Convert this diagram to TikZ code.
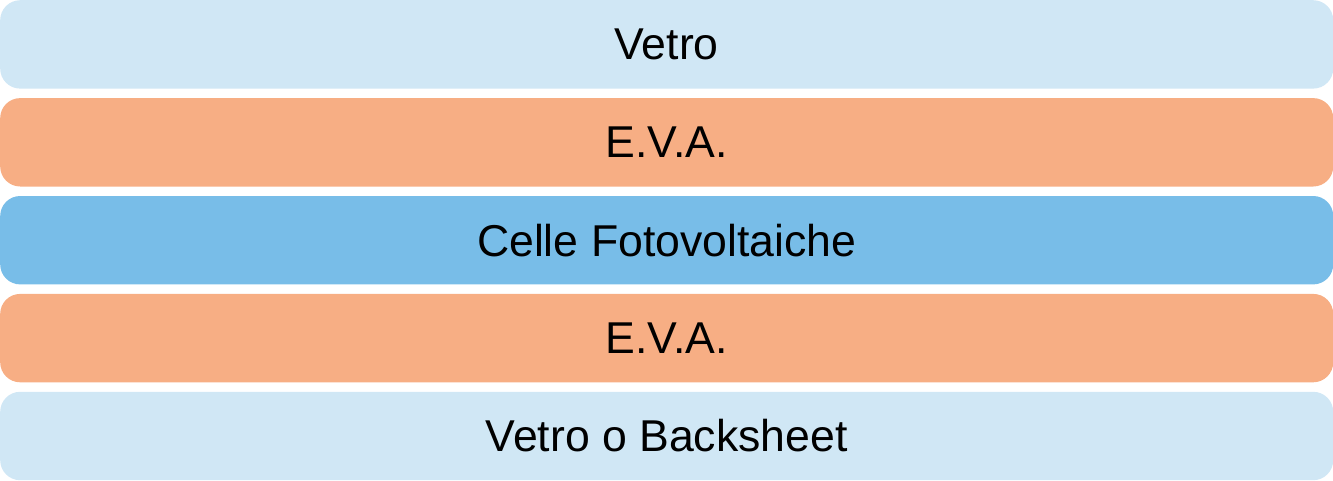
\documentclass[tikz,border=0pt]{standalone}
\usepackage{fontspec}
\setmainfont{Liberation Sans}
\definecolor{glass}{HTML}{D0E7F5}
\definecolor{eva}{HTML}{F7AE84}
\definecolor{cell}{HTML}{78BDE8}
\begin{document}
\begin{tikzpicture}[x=1pt,y=-1pt,
  layer/.style={rounded corners=20pt, draw=none, minimum width=1333pt,
    minimum height=88.4pt, inner sep=0pt, anchor=north west,
    font=\fontsize{44.6}{52}\selectfont}]
\useasboundingbox (0,0) rectangle (1333,480);
\node[layer, fill=glass] (vetro) at (0,0) {Vetro};
\node[layer, fill=eva] (evaA) at (0,97.9) {E.V.A.};
\node[layer, fill=cell] (celle) at (0,195.8) {Celle Fotovoltaiche};
\node[layer, fill=eva] (evaB) at (0,293.7) {E.V.A.};
\node[layer, fill=glass] (back) at (0,391.6) {Vetro o Backsheet};
\end{tikzpicture}
\end{document}
